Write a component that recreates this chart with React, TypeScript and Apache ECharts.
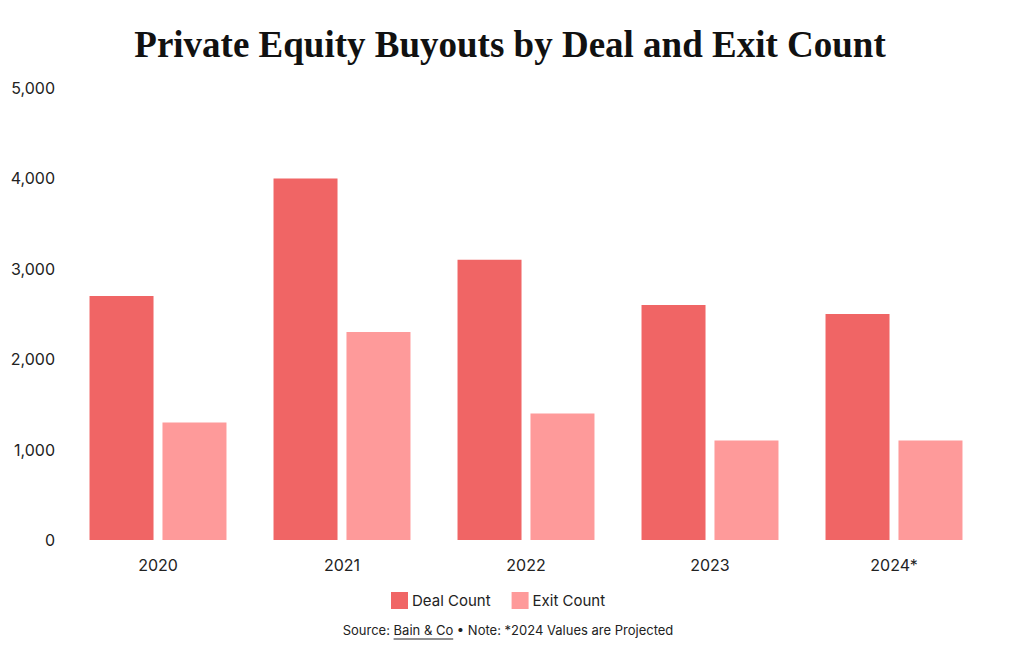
import React, { useEffect, useRef } from "react";
import * as echarts from "echarts";

const categories = ["2020", "2021", "2022", "2023", "2024*"];
const dealCount = [2700, 4000, 3100, 2600, 2500];
const exitCount = [1300, 2300, 1400, 1100, 1100];
const seriesNames = ["Deal Count", "Exit Count"];
const titleText = "Private Equity Buyouts by Deal and Exit Count";
const sourcePre = "Source: ";
const sourceLink = "Bain & Co";
const sourcePost = " • Note: *2024 Values are Projected";

const SANS = "Inter, 'Noto Sans', Roboto, sans-serif";

function measure(text: string, font: string): number {
  const c = document.createElement("canvas").getContext("2d");
  if (!c) return text.length * 7;
  c.font = font;
  return c.measureText(text).width;
}

export default function App() {
  const ref = useRef<HTMLDivElement>(null);
  useEffect(() => {
    document.body.style.margin = "0";
    if (!ref.current) return;
    const chart = echarts.init(ref.current, undefined, { renderer: "svg" });
    const font = "13px Inter";
    const wPre = measure(sourcePre, font);
    const wLink = measure(sourceLink, font);
    const wPost = measure(sourcePost, font);
    const total = wPre + wLink + wPost;
    const x0 = 508 - total / 2;
    const ty = 631;
    chart.setOption({
      animation: false,
      backgroundColor: "#ffffff",
      title: {
        text: titleText,
        left: "center",
        top: 21,
        textStyle: {
          fontFamily: "'Liberation Serif', 'DejaVu Serif', serif",
          fontWeight: "bold",
          fontSize: 37,
          color: "#111111",
        },
      },
      legend: {
        data: seriesNames,
        top: 592,
        left: 391,
        padding: 0,
        itemWidth: 17,
        itemHeight: 17,
        itemGap: 21,
        icon: "rect",
        textStyle: { fontFamily: SANS, fontSize: 15, color: "#222222", padding: [0, 0, 0, -1] },
      },
      grid: { left: 66, right: 34, top: 88, bottom: 110, containLabel: false },
      xAxis: {
        type: "category",
        data: categories,
        axisLine: { show: false },
        axisTick: { show: false },
        axisLabel: { fontFamily: SANS, fontSize: 16, color: "#222222", margin: 17 },
      },
      yAxis: {
        type: "value",
        min: 0,
        max: 5000,
        interval: 1000,
        splitLine: { show: false },
        axisLine: { show: false },
        axisTick: { show: false },
        axisLabel: {
          fontFamily: SANS,
          fontSize: 16,
          color: "#222222",
          margin: 11,
          formatter: (v: number) => v.toLocaleString("en-US"),
        },
      },
      series: [
        {
          name: seriesNames[0],
          type: "bar",
          data: dealCount,
          barWidth: 64,
          barGap: "14%",
          itemStyle: { color: "#f06565" },
        },
        {
          name: seriesNames[1],
          type: "bar",
          data: exitCount,
          barWidth: 64,
          barGap: "14%",
          itemStyle: { color: "#fe9a9a" },
        },
      ],
      graphic: [
        {
          type: "text",
          left: x0,
          top: ty - 8,
          style: { text: sourcePre, font, fill: "#222222" },
        },
        {
          type: "text",
          left: x0 + wPre,
          top: ty - 8,
          style: { text: sourceLink, font, fill: "#222222" },
        },
        {
          type: "line",
          shape: { x1: x0 + wPre, y1: ty + 8, x2: x0 + wPre + wLink, y2: ty + 8 },
          style: { stroke: "#222222", lineWidth: 1 },
        },
        {
          type: "text",
          left: x0 + wPre + wLink,
          top: ty - 8,
          style: { text: sourcePost, font, fill: "#222222" },
        },
      ],
    });
    return () => chart.dispose();
  }, []);
  return <div ref={ref} style={{ width: 1020, height: 650 }} />;
}
